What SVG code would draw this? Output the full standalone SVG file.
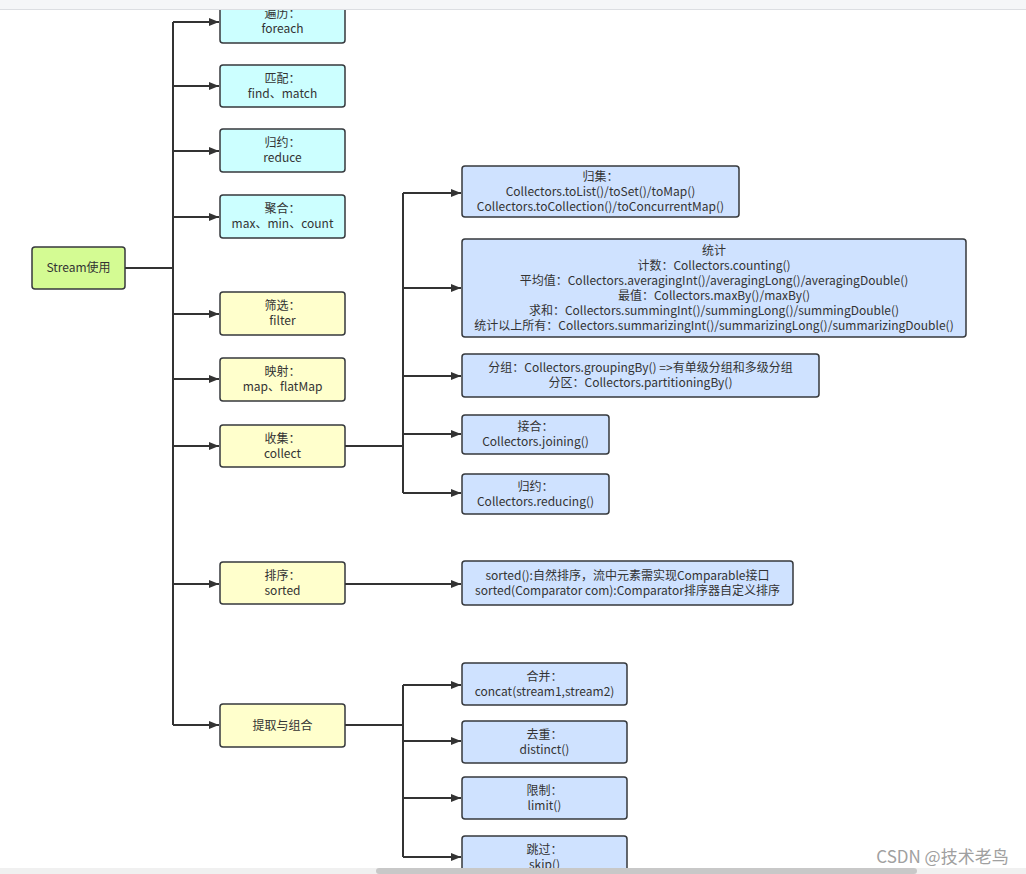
<svg xmlns="http://www.w3.org/2000/svg" width="1026" height="874" viewBox="0 0 1026 874">
<defs>
<marker id="arr" viewBox="0 0 10 10" refX="10" refY="5" markerWidth="10" markerHeight="10" markerUnits="userSpaceOnUse" orient="auto">
<path d="M0,1 L10,5 L0,9 Z" fill="#333333"/>
</marker>
<style>
.n rect{stroke:#36393d;stroke-width:1.5}
.cy rect{fill:#ccffff}
.ye rect{fill:#ffffcc}
.bl rect{fill:#cfe2ff}
.gr rect{fill:#d4fb93}
text{font-family:"Noto Sans CJK SC","Noto Sans",sans-serif;font-size:12px;fill:#333333;text-anchor:middle}
.c line,.c path{stroke:#333333;stroke-width:2;fill:none}
</style>
</defs>
<rect x="0" y="0" width="1026" height="874" fill="#ffffff"/>
<g class="c">
<path d="M125,268 L173,268" stroke-width="3"/>
<path d="M173,22 L173,725"/>
<line x1="173" y1="22" x2="219" y2="22" marker-end="url(#arr)"/>
<line x1="173" y1="86" x2="219" y2="86" marker-end="url(#arr)"/>
<line x1="173" y1="151" x2="219" y2="151" marker-end="url(#arr)"/>
<line x1="173" y1="217" x2="219" y2="217" marker-end="url(#arr)"/>
<line x1="173" y1="314" x2="219" y2="314" marker-end="url(#arr)"/>
<line x1="173" y1="379" x2="219" y2="379" marker-end="url(#arr)"/>
<line x1="173" y1="446" x2="219" y2="446" marker-end="url(#arr)"/>
<line x1="173" y1="584" x2="219" y2="584" marker-end="url(#arr)"/>
<line x1="173" y1="725" x2="219" y2="725" marker-end="url(#arr)"/>
<path d="M345,446 L403,446"/>
<path d="M403,193 L403,493"/>
<line x1="403" y1="193" x2="461" y2="193" marker-end="url(#arr)"/>
<line x1="403" y1="288" x2="461" y2="288" marker-end="url(#arr)"/>
<line x1="403" y1="376" x2="461" y2="376" marker-end="url(#arr)"/>
<line x1="403" y1="434" x2="461" y2="434" marker-end="url(#arr)"/>
<line x1="403" y1="493" x2="461" y2="493" marker-end="url(#arr)"/>
<line x1="345" y1="584" x2="461" y2="584" marker-end="url(#arr)"/>
<path d="M345,725 L403,725"/>
<path d="M403,685 L403,857"/>
<line x1="403" y1="685" x2="461" y2="685" marker-end="url(#arr)"/>
<line x1="403" y1="741" x2="461" y2="741" marker-end="url(#arr)"/>
<line x1="403" y1="798" x2="461" y2="798" marker-end="url(#arr)"/>
<line x1="403" y1="857" x2="461" y2="857" marker-end="url(#arr)"/>
</g>
<g id="stream" class="n gr"><rect x="32" y="247" width="93" height="42" rx="3"/><text x="78.5" y="272">Stream使用</text></g>
<g id="foreach" class="n cy"><rect x="220" y="0" width="125" height="43" rx="3"/><text x="282.5" y="18">遍历：</text><text x="282.5" y="33">foreach</text></g>
<g id="match" class="n cy"><rect x="220" y="65" width="125" height="42" rx="3"/><text x="282.5" y="83">匹配：</text><text x="282.5" y="98">find、match</text></g>
<g id="reduce" class="n cy"><rect x="220" y="129" width="125" height="43" rx="3"/><text x="282.5" y="147">归约：</text><text x="282.5" y="162">reduce</text></g>
<g id="aggregate" class="n cy"><rect x="220" y="195" width="125" height="43" rx="3"/><text x="282.5" y="213">聚合：</text><text x="282.5" y="228">max、min、count</text></g>
<g id="filter" class="n ye"><rect x="220" y="292" width="125" height="43" rx="3"/><text x="282.5" y="310">筛选：</text><text x="282.5" y="325">filter</text></g>
<g id="map" class="n ye"><rect x="220" y="358" width="125" height="43" rx="3"/><text x="282.5" y="376">映射：</text><text x="282.5" y="391">map、flatMap</text></g>
<g id="collect" class="n ye"><rect x="220" y="425" width="125" height="42" rx="3"/><text x="282.5" y="442.5">收集：</text><text x="282.5" y="457.5">collect</text></g>
<g id="sorted" class="n ye"><rect x="220" y="562" width="125" height="42" rx="3"/><text x="282.5" y="579.5">排序：</text><text x="282.5" y="594.5">sorted</text></g>
<g id="extract" class="n ye"><rect x="220" y="704" width="125" height="43" rx="3"/><text x="282.5" y="729.5">提取与组合</text></g>
<g id="gather" class="n bl"><rect x="462" y="166" width="277" height="51" rx="3"/><text x="600.5" y="180.5">归集：</text><text x="600.5" y="195.5">Collectors.toList()/toSet()/toMap()</text><text x="600.5" y="210.5">Collectors.toCollection()/toConcurrentMap()</text></g>
<g id="stats" class="n bl"><rect x="462" y="239" width="504" height="98" rx="3"/><text x="714" y="254.5">统计</text><text x="714" y="269.5">计数：Collectors.counting()</text><text x="714" y="284.5">平均值：Collectors.averagingInt()/averagingLong()/averagingDouble()</text><text x="714" y="299.5">最值：Collectors.maxBy()/maxBy()</text><text x="714" y="314.5">求和：Collectors.summingInt()/summingLong()/summingDouble()</text><text x="714" y="329.5">统计以上所有：Collectors.summarizingInt()/summarizingLong()/summarizingDouble()</text></g>
<g id="group" class="n bl"><rect x="462" y="354" width="357" height="43" rx="3"/><text x="640.5" y="372">分组：Collectors.groupingBy() =&gt;有单级分组和多级分组</text><text x="640.5" y="387">分区：Collectors.partitioningBy()</text></g>
<g id="joining" class="n bl"><rect x="462" y="415" width="147" height="39" rx="3"/><text x="535.5" y="431">接合：</text><text x="535.5" y="446">Collectors.joining()</text></g>
<g id="reducing" class="n bl"><rect x="462" y="474" width="147" height="40" rx="3"/><text x="535.5" y="490.5">归约：</text><text x="535.5" y="505.5">Collectors.reducing()</text></g>
<g id="sortdesc" class="n bl"><rect x="462" y="561" width="331" height="44" rx="3"/><text x="627.5" y="579.5">sorted():自然排序，流中元素需实现Comparable接口</text><text x="627.5" y="594.5">sorted(Comparator com):Comparator排序器自定义排序</text></g>
<g id="concat" class="n bl"><rect x="462" y="663" width="165" height="42" rx="3"/><text x="544.5" y="680.5">合并：</text><text x="544.5" y="695.5">concat(stream1,stream2)</text></g>
<g id="distinct" class="n bl"><rect x="462" y="721" width="165" height="42" rx="3"/><text x="544.5" y="738.5">去重：</text><text x="544.5" y="753.5">distinct()</text></g>
<g id="limit" class="n bl"><rect x="462" y="777" width="165" height="42" rx="3"/><text x="544.5" y="794.5">限制：</text><text x="544.5" y="809.5">limit()</text></g>
<g id="skip" class="n bl"><rect x="462" y="836" width="165" height="42" rx="3"/><text x="544.5" y="853.5">跳过：</text><text x="544.5" y="868.5">skip()</text></g>
<text x="942.5" y="863" style="font-size:17px;fill:#a0a0a0">CSDN @技术老鸟</text>
<rect x="0" y="0" width="1026" height="9.5" fill="#f5f6f8"/>
<rect x="0" y="9" width="1026" height="1" fill="#dcdee2"/>
<rect x="0" y="868" width="1026" height="6" fill="#f0f0f0"/>
<rect x="376" y="868" width="541" height="6" rx="3" fill="#c8c8c8"/>
</svg>
